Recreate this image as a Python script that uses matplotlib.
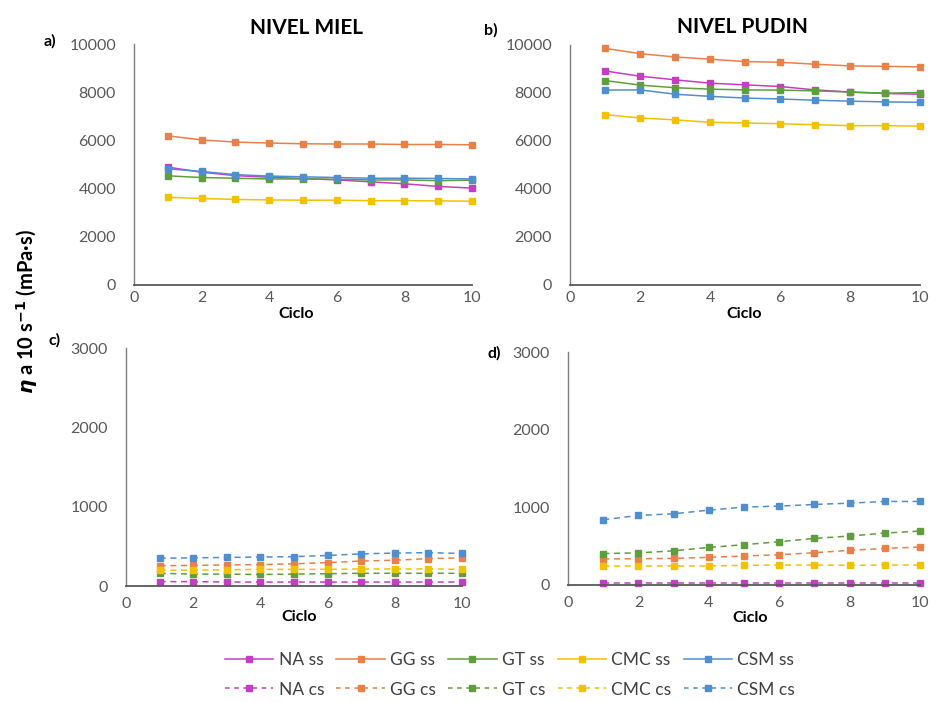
import matplotlib
matplotlib.use("Agg")
import matplotlib.pyplot as plt
from matplotlib.lines import Line2D

plt.rcParams['font.family'] = ['Lato', 'DejaVu Sans']
plt.rcParams['mathtext.fontset'] = 'custom'
plt.rcParams['mathtext.it'] = 'DejaVu Sans:italic:bold'
plt.rcParams['mathtext.bf'] = 'DejaVu Sans:bold'
plt.rcParams['mathtext.rm'] = 'DejaVu Sans:bold'

ciclo = [1, 2, 3, 4, 5, 6, 7, 8, 9, 10]
series = ["NA", "GG", "GT", "CMC", "CSM"]
colors = {"NA": "#C23FC4", "GG": "#E8804A", "GT": "#5E9E3C", "CMC": "#F2C200", "CSM": "#4F8FD0"}

# a) NIVEL MIEL, sin sal (ss)
miel_ss = {
    "NA":  [4890, 4680, 4540, 4470, 4420, 4360, 4280, 4200, 4090, 4020],
    "GG":  [6190, 6020, 5930, 5890, 5860, 5850, 5850, 5830, 5830, 5820],
    "GT":  [4530, 4460, 4430, 4400, 4400, 4390, 4360, 4360, 4330, 4350],
    "CMC": [3640, 3590, 3550, 3530, 3520, 3520, 3500, 3500, 3490, 3480],
    "CSM": [4820, 4710, 4580, 4520, 4490, 4460, 4430, 4430, 4420, 4400],
}
# b) NIVEL PUDIN, ss
pudin_ss = {
    "NA":  [8920, 8700, 8550, 8410, 8340, 8270, 8130, 8040, 7980, 7950],
    "GG":  [9860, 9640, 9500, 9410, 9310, 9280, 9200, 9130, 9110, 9090],
    "GT":  [8520, 8330, 8220, 8160, 8130, 8120, 8090, 8040, 7990, 8020],
    "CMC": [7100, 6960, 6880, 6780, 6750, 6720, 6680, 6640, 6640, 6620],
    "CSM": [8120, 8130, 7950, 7860, 7790, 7750, 7700, 7660, 7630, 7610],
}
# c) NIVEL MIEL, con sal (cs)
miel_cs = {
    "NA":  [55, 55, 50, 50, 50, 50, 50, 50, 50, 50],
    "GG":  [255, 260, 265, 270, 280, 295, 315, 325, 345, 355],
    "GT":  [160, 150, 150, 145, 150, 155, 160, 160, 160, 160],
    "CMC": [200, 200, 205, 210, 210, 210, 215, 215, 215, 210],
    "CSM": [350, 355, 360, 365, 370, 385, 405, 415, 420, 410],
}
# d) NIVEL PUDIN, cs
pudin_cs = {
    "NA":  [25, 25, 25, 25, 25, 25, 25, 25, 25, 25],
    "GG":  [335, 338, 343, 356, 373, 390, 416, 446, 471, 489],
    "GT":  [405, 414, 440, 484, 519, 557, 600, 630, 669, 694],
    "CMC": [244, 245, 245, 245, 253, 257, 257, 253, 257, 257],
    "CSM": [840, 896, 917, 964, 1003, 1016, 1037, 1054, 1076, 1076],
}

fig = plt.figure(figsize=(9.38, 7.02), dpi=100)
W, H = 938, 702

def axes_px(x0, x1, ytop, ybot):
    return fig.add_axes([x0 / W, 1 - ybot / H, (x1 - x0) / W, (ybot - ytop) / H])

ax_a = axes_px(134, 472, 44, 285)
ax_b = axes_px(570, 920, 45, 285)
ax_c = axes_px(126, 462, 348, 586)
ax_d = axes_px(568, 920, 352, 585)

tick_col = "#595959"

def style(ax, ymax, ystep, xpad):
    ax.set_xlim(0, 10)
    ax.set_ylim(0, ymax)
    ax.set_xticks(range(0, 11, 2))
    ax.set_yticks(range(0, ymax + 1, ystep))
    for s in ["top", "right"]:
        ax.spines[s].set_visible(False)
    ax.spines["left"].set_color("#7f7f7f")
    ax.spines["bottom"].set_color("#595959")
    ax.spines["left"].set_linewidth(1.0)
    ax.spines["bottom"].set_linewidth(1.3)
    ax.tick_params(length=0, labelsize=11.5, labelcolor=tick_col)
    ax.tick_params(axis="y", pad=13)
    ax.tick_params(axis="x", pad=xpad)

def draw(ax, data, ls):
    for s in series:
        ax.plot(ciclo, data[s], color=colors[s], linestyle=ls, linewidth=1.1,
                marker="s", markersize=4, clip_on=False,
                dashes=(4, 3) if ls == "--" else (None, None))

draw(ax_a, miel_ss, "-")
draw(ax_b, pudin_ss, "-")
draw(ax_c, miel_cs, "--")
draw(ax_d, pudin_cs, "--")
style(ax_a, 10000, 2000, 4)
style(ax_b, 10000, 2000, 4)
style(ax_c, 3000, 1000, 8)
style(ax_d, 3000, 1000, 8)

# titles
fig.text(307 / W, 1 - 28 / H, "NIVEL MIEL", ha="center", va="center", fontsize=15, fontweight="bold")
fig.text(742 / W, 1 - 27 / H, "NIVEL PUDIN", ha="center", va="center", fontsize=15, fontweight="bold")

# panel labels
for lab, x, y in [("a)", 50, 41), ("b)", 491, 30), ("c)", 55, 340), ("d)", 494, 353)]:
    fig.text(x / W, 1 - y / H, lab, ha="center", va="center", fontsize=11.5, fontweight="bold")

# x labels
for x, y in [(296, 314), (744, 314), (299, 617), (750, 618)]:
    fig.text(x / W, 1 - y / H, "Ciclo", ha="center", va="center", fontsize=11.5, fontweight="bold")

# y label
fig.text(27 / W, 1 - 312 / H, r"$\mathit{\eta}$ a 10 s$^{\mathbf{-1}}$ (mPa·s)", rotation=90,
         ha="center", va="center", fontsize=14.5, fontweight="bold")

# legend
handles = []
labels = []
for s in series:
    handles.append(Line2D([], [], color=colors[s], linestyle="-", linewidth=1.1, marker="s", markersize=4))
    labels.append(f"{s} ss")
for s in series:
    handles.append(Line2D([], [], color=colors[s], linestyle="--", dashes=(3, 3), linewidth=1.1, marker="s", markersize=4))
    labels.append(f"{s} cs")
ordered_h, ordered_l = [], []
for i in range(5):
    ordered_h += [handles[i], handles[i + 5]]
    ordered_l += [labels[i], labels[i + 5]]
leg = fig.legend(ordered_h, ordered_l, ncol=5, loc="center", bbox_to_anchor=(510 / W, 1 - 675 / H),
                 frameon=False, fontsize=12.5, handlelength=2.8, columnspacing=0.7, handletextpad=0.3,
                 labelspacing=0.75, labelcolor="#404040")

fig.savefig("out.png", dpi=100)
